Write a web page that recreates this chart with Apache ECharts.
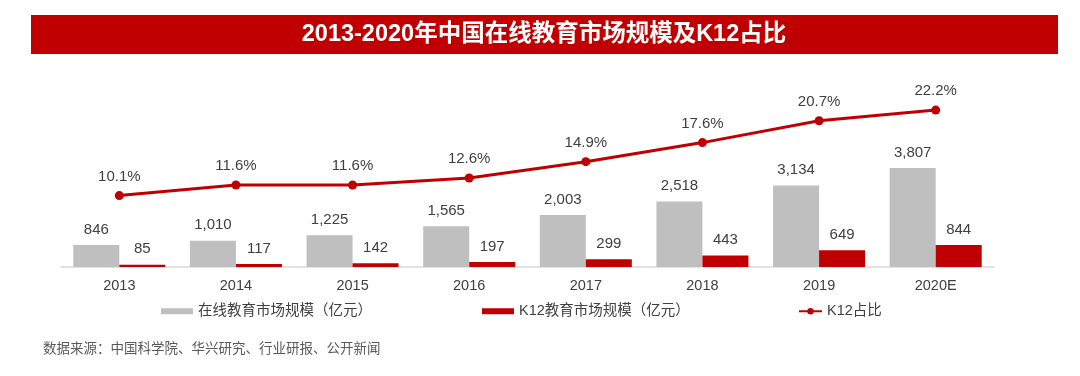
<!DOCTYPE html>
<html><head><meta charset="utf-8">
<script src="https://cdn.jsdelivr.net/npm/echarts@6/dist/echarts.min.js"></script>
<style>html,body{margin:0;padding:0;background:#fff}#c{width:1080px;height:376px}</style>
</head><body><div id="c"></div>
<script>
const titleText = '2013-2020年中国在线教育市场规模及K12占比';
const sourceText = '数据来源：中国科学院、华兴研究、行业研报、公开新闻';
const categories = ['2013','2014','2015','2016','2017','2018','2019','2020E'];
const onlineEdu = [846,1010,1225,1565,2003,2518,3134,3807];
const k12Edu = [85,117,142,197,299,443,649,844];
const k12Share = [10.1,11.6,11.6,12.6,14.9,17.6,20.7,22.2];
const seriesNames = ['在线教育市场规模（亿元）','K12教育市场规模（亿元）','K12占比'];

const FONT = "'Liberation Sans','Noto Sans CJK SC',sans-serif";
const RED = '#C00000';
const GRAY = '#BFBFBF';
const TXT = '#404040';

const chart = echarts.init(document.getElementById('c'));
const numFmt = p => Number(p.value).toLocaleString('en-US');
const legTxt = {fontSize:14.5, color:TXT, fontFamily:FONT};
chart.setOption({
  animation: false,
  textStyle: {fontFamily: FONT},
  graphic: [
    {type:'rect', shape:{x:31,y:15,width:1027,height:39}, style:{fill:RED}},
    {type:'text', x:544, y:35, style:{text:titleText, fill:'#fff', font:"bold 23.5px "+FONT, align:'center', verticalAlign:'middle'}},
    {type:'text', left:43, top:343, style:{text:sourceText, fill:'#595959', font:"13.5px "+FONT}}
  ],
  grid: {left:61, right:86, top:85, bottom:109},
  legend: [
    {data:[seriesNames[0]], left:161, top:304, padding:0, itemWidth:32, itemHeight:6, textStyle:legTxt, icon:'rect'},
    {data:[seriesNames[1]], left:482, top:304, padding:0, itemWidth:32, itemHeight:6, textStyle:legTxt, icon:'rect'},
    {data:[seriesNames[2]], left:798, top:304, padding:0, itemWidth:23, itemHeight:8, textStyle:legTxt}
  ],
  xAxis: {
    type:'category', data:categories,
    axisLine:{lineStyle:{color:'#D9D9D9', width:1.5}},
    axisTick:{show:false},
    axisLabel:{color:TXT, fontSize:14.5, margin:12, fontFamily:FONT}
  },
  yAxis: [
    {type:'value', min:0, max:7000, show:false, splitLine:{show:false}},
    {type:'value', min:0, max:25.75, show:false, splitLine:{show:false}}
  ],
  series: [
    {name:seriesNames[0], type:'bar', data:onlineEdu, barWidth:46, barGap:'0%',
     itemStyle:{color:GRAY},
     label:{show:true, position:'top', distance:8, color:TXT, fontSize:15, fontFamily:FONT, formatter:numFmt}},
    {name:seriesNames[1], type:'bar', data:k12Edu, barWidth:46,
     itemStyle:{color:RED},
     label:{show:true, position:'top', distance:8, color:TXT, fontSize:15, fontFamily:FONT, formatter:numFmt}},
    {name:seriesNames[2], type:'line', yAxisIndex:1, data:k12Share,
     symbol:'circle', symbolSize:9,
     lineStyle:{color:RED, width:3}, itemStyle:{color:RED},
     label:{show:true, position:'top', distance:7, color:TXT, fontSize:15, fontFamily:FONT,
            formatter:p => p.value.toFixed(1)+'%'}}
  ]
});
</script></body></html>
